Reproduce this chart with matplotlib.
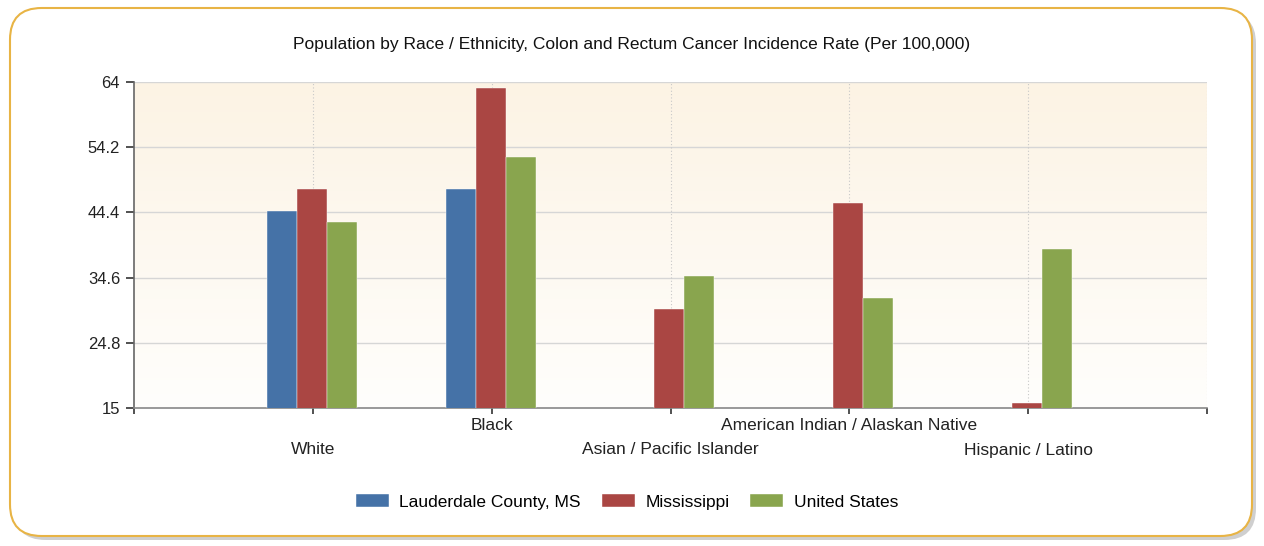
import numpy as np
import matplotlib
matplotlib.use("Agg")
import matplotlib.pyplot as plt
from matplotlib.patches import FancyBboxPatch
from matplotlib.transforms import blended_transform_factory

categories = ["White", "Black", "Asian / Pacific Islander",
              "American Indian / Alaskan Native", "Hispanic / Latino"]
series_names = ["Lauderdale County, MS", "Mississippi", "United States"]
lauderdale = [44.6, 47.9, np.nan, np.nan, np.nan]
mississippi = [47.9, 63.1, 29.9, 45.8, 15.8]
united_states = [42.9, 52.7, 34.8, 31.5, 38.9]
y_ticks = [15, 24.8, 34.6, 44.4, 54.2, 64]
colors = ["#4572a7", "#aa4643", "#89a54e"]

plt.rcParams["font.family"] = ["Liberation Sans", "DejaVu Sans"]

fig = plt.figure(figsize=(12.64, 5.46), dpi=100)

# rounded frame with shadow, kept behind the axes
W, H = 1264, 546
shadow = FancyBboxPatch((14 / W, 6 / H), 1242 / W, 528 / H,
                        boxstyle="round,pad=0,rounding_size=0.025",
                        transform=fig.transFigure, facecolor="#b0b0b0",
                        edgecolor="none", alpha=0.6, mutation_aspect=W / H,
                        zorder=-3)
frame = FancyBboxPatch((10 / W, 10 / H), 1242 / W, 528 / H,
                       boxstyle="round,pad=0,rounding_size=0.025",
                       transform=fig.transFigure, facecolor="white",
                       edgecolor="#e8b445", linewidth=1.5, mutation_aspect=W / H,
                       zorder=-2)
fig.patches.extend([shadow, frame])

ax = fig.add_axes([134 / W, 1 - 408 / H, (1207 - 134) / W, (408 - 82) / H])
ax.set_facecolor("none")

# gradient background of the plot area
grad = np.linspace(0, 1, 256).reshape(-1, 1)
top = np.array([252, 243, 228]) / 255
bot = np.array([255, 254, 252]) / 255
img = top * (1 - grad[:, :, None]) + bot * grad[:, :, None]
ax.imshow(img, extent=[0, 1, 0, 1], transform=ax.transAxes,
          aspect="auto", zorder=0)

x = np.arange(1, len(categories) + 1)
w = 0.168
for i, (vals, name) in enumerate(zip([lauderdale, mississippi, united_states], series_names)):
    ax.bar(x + (i - 1) * w - 0.006, vals, width=w, color=colors[i], label=name,
           edgecolor="white", linewidth=0.3, zorder=3)

ax.set_xlim(0, 6)
ax.set_ylim(15, 64)
ax.set_yticks(y_ticks)
ax.set_yticklabels(["15", "24.8", "34.6", "44.4", "54.2", "64"], fontsize=12, color="#222222")
ax.set_xticks([0, 1, 2, 3, 4, 5, 6])
ax.set_xticklabels([])

# grid
for yv in y_ticks[1:]:
    ax.axhline(yv, color="#d6d6d6", linewidth=1, zorder=1)
for xv in list(x) + [6]:
    ax.axvline(xv, color="#c8c8c8", linewidth=0.8, linestyle=(0, (1, 2)), zorder=1)

for s in ["top", "right"]:
    ax.spines[s].set_visible(False)
ax.spines["left"].set_color("#666666")
ax.spines["bottom"].set_color("#888888")
ax.spines["left"].set_linewidth(1.2)
ax.spines["bottom"].set_linewidth(1.2)
ax.tick_params(axis="y", length=6, width=1.2, color="#333333", pad=4)
ax.tick_params(axis="x", length=4, width=1.2, color="#333333")

trans = blended_transform_factory(ax.transData, fig.transFigure)
for i, (xv, lab) in enumerate(zip(x, categories)):
    ypix = 450 if i % 2 == 0 else 426
    ax.text(xv, 1 - ypix / H, lab, transform=trans, ha="center", va="center",
            fontsize=12.5, color="#222222")

fig.text(632 / W, 1 - 44 / H,
         "Population by Race / Ethnicity, Colon and Rectum Cancer Incidence Rate (Per 100,000)",
         ha="center", va="center", fontsize=12.5, color="#111111")

fig.legend(loc="center", bbox_to_anchor=(627 / W, 1 - 502 / H), ncol=3,
           frameon=False, fontsize=12.5, handlelength=1.9, handleheight=0.8,
           columnspacing=1.2, handletextpad=0.6)

fig.savefig("out.png", dpi=100)
